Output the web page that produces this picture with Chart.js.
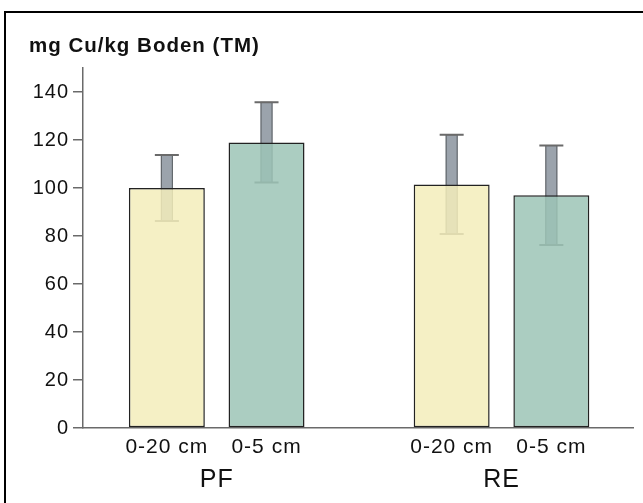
<!DOCTYPE html>
<html>
<head>
<meta charset="utf-8">
<script src="https://cdn.jsdelivr.net/npm/chart.js@4"></script>
<style>
  body { margin: 0; background: #fff; }
  #wrap { position: relative; width: 643px; height: 503px; }
</style>
</head>
<body>
<div id="wrap"><canvas id="chart"></canvas></div>
<script>
const groups = ['PF', 'RE'];
const depths = ['0-20 cm', '0-5 cm'];
const mean_0_20 = [100, 101.5];
const mean_0_5 = [119, 97];
const err_0_20 = [13.7, 20.7];
const err_0_5 = [16.7, 20.7];
const yTicks = [0, 20, 40, 60, 80, 100, 120, 140];

const FONT = '"Liberation Sans", Arial, sans-serif';

// error bars behind the (slightly transparent) bars
const errorBars = {
  id: 'errorBars',
  beforeDatasetsDraw(chart) {
    const ctx = chart.ctx;
    const y = chart.scales.y;
    const errs = [err_0_20, err_0_5];
    chart.data.datasets.forEach((ds, di) => {
      chart.getDatasetMeta(di).data.forEach((bar, i) => {
        const v = ds.data[i].y;
        const top = y.getPixelForValue(v + errs[di][i]);
        const bot = y.getPixelForValue(v - errs[di][i]);
        ctx.save();
        ctx.fillStyle = '#9ba3ac';
        ctx.fillRect(bar.x - 6, top, 12, bot - top);
        ctx.strokeStyle = '#5a5e62';
        ctx.lineWidth = 1;
        ctx.strokeRect(bar.x - 6 + 0.5, top, 11, bot - top);
        ctx.strokeStyle = '#6a6a6a';
        ctx.lineWidth = 2;
        ctx.beginPath();
        ctx.moveTo(bar.x - 12, top);
        ctx.lineTo(bar.x + 12, top);
        ctx.moveTo(bar.x - 12, bot);
        ctx.lineTo(bar.x + 12, bot);
        ctx.stroke();
        ctx.restore();
      });
    });
  }
};

const decor = {
  id: 'decor',
  beforeDraw(chart) {
    const ctx = chart.ctx;
    ctx.letterSpacing = '1px';
    ctx.save();
    ctx.fillStyle = '#000';
    ctx.fillRect(4, 11, 639, 2);
    ctx.fillRect(4, 11, 2, 492);
    ctx.restore();
  },
  afterDraw(chart) {
    const ctx = chart.ctx;
    const x = chart.scales.x;
    ctx.save();
    ctx.letterSpacing = '1px';
    ctx.fillStyle = '#111';
    ctx.textBaseline = 'alphabetic';
    ctx.textAlign = 'left';
    ctx.font = 'bold 20.5px ' + FONT;
    ctx.fillText('mg Cu/kg Boden (TM)', 29, 52);
    ctx.textAlign = 'center';
    ctx.font = '21px ' + FONT;
    chart.data.datasets.forEach((ds, di) => {
      chart.getDatasetMeta(di).data.forEach(bar => {
        ctx.fillText(depths[di], bar.x, 453);
      });
    });
    ctx.font = '25px ' + FONT;
    groups.forEach((g, i) => {
      ctx.fillText(g, x.getPixelForValue(i), 487);
    });
    ctx.restore();
  }
};

new Chart(document.getElementById('chart'), {
  type: 'bar',
  data: {
    datasets: [{
      label: depths[0],
      data: mean_0_20.map((v, i) => ({ x: i, y: v })),
      backgroundColor: 'rgba(243, 237, 187, 0.85)',
      borderColor: '#222',
      borderWidth: 1.5,
      borderSkipped: false,
      categoryPercentage: 0.70,
      barPercentage: 0.762
    }, {
      label: depths[1],
      data: mean_0_5.map((v, i) => ({ x: i, y: v })),
      backgroundColor: 'rgba(156, 196, 182, 0.85)',
      borderColor: '#222',
      borderWidth: 1.5,
      borderSkipped: false,
      categoryPercentage: 0.70,
      barPercentage: 0.762
    }]
  },
  options: {
    responsive: true,
    maintainAspectRatio: false,
    animation: false,
    layout: { padding: { top: 68, bottom: 75, left: 0, right: 10 } },
    plugins: {
      legend: { display: false },
      tooltip: { enabled: false }
    },
    scales: {
      x: {
        type: 'linear',
        min: -0.4694,
        max: 1.4617,
        offset: false,
        afterBuildTicks: (s) => { s.ticks = groups.map((g, i) => ({ value: i })); },
        ticks: { display: false },
        grid: { display: false },
        border: { display: true, color: '#6a6a6a', width: 1.5 },
        afterFit: (s) => { s.height = 0; }
      },
      y: {
        min: 0,
        max: 150,
        afterBuildTicks: (s) => { s.ticks = yTicks.map(v => ({ value: v })); },
        afterFit: (s) => { s.width = 83; },
        ticks: {
          color: '#111',
          padding: 4,
          font: { family: FONT, size: 20 }
        },
        grid: {
          drawOnChartArea: false,
          drawTicks: true,
          tickLength: 10,
          color: '#6a6a6a',
          lineWidth: 1.5
        },
        border: { display: true, color: '#6a6a6a', width: 1.5 }
      }
    }
  },
  plugins: [errorBars, decor]
});
</script>
</body>
</html>
